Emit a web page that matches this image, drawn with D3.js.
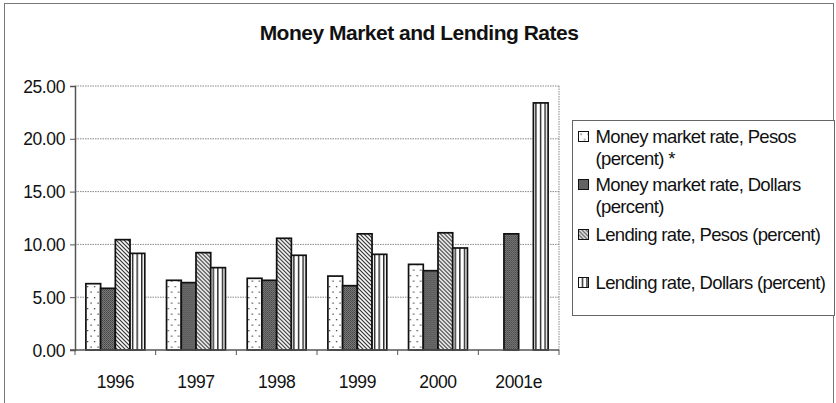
<!DOCTYPE html>
<html>
<head>
<meta charset="utf-8">
<script src="https://cdnjs.cloudflare.com/ajax/libs/d3/7.8.5/d3.min.js"></script>
<style>
  body { margin: 0; background: #fff; }
  text { font-family: "Liberation Sans", Arial, sans-serif; fill: #111; }
</style>
</head>
<body>
<div id="chart"></div>
<script>
// data
var years = ["1996", "1997", "1998", "1999", "2000", "2001e"];
var seriesNames = [
  ["Money market rate, Pesos", "(percent) *"],
  ["Money market rate, Dollars", "(percent)"],
  ["Lending rate, Pesos (percent)"],
  ["Lending rate, Dollars (percent)"]
];
var mmPesos   = [6.28, 6.60, 6.79, 7.00, 8.11, null];
var mmDollars = [5.84, 6.38, 6.60, 6.09, 7.51, 11.00];
var lendPesos = [10.45, 9.22, 10.58, 11.00, 11.10, null];
var lendDollars = [9.15, 7.80, 8.97, 9.06, 9.66, 23.40];
var yTicks = [0, 5, 10, 15, 20, 25];

var allSeries = [mmPesos, mmDollars, lendPesos, lendDollars];
var patterns = ["pDots", "pDark", "pDiag", "pVert"];

var W = 836, H = 403;
var margin = {top: 86, right: 277, bottom: 53, left: 75},
    width = W - margin.left - margin.right,
    height = H - margin.top - margin.bottom;

var svg = d3.select("#chart").append("svg")
  .attr("width", W).attr("height", H);

// fill patterns
var defs = svg.append("defs");
var p1 = defs.append("pattern").attr("id", "pDots").attr("patternUnits", "userSpaceOnUse")
  .attr("width", 7).attr("height", 11);
p1.append("rect").attr("width", 7).attr("height", 11).attr("fill", "#fff");
p1.append("rect").attr("x", 1).attr("y", 2).attr("width", 1.3).attr("height", 1.3).attr("fill", "#444");
p1.append("rect").attr("x", 4.5).attr("y", 7.5).attr("width", 1.3).attr("height", 1.3).attr("fill", "#444");

var p2 = defs.append("pattern").attr("id", "pDark").attr("patternUnits", "userSpaceOnUse")
  .attr("width", 2).attr("height", 2);
p2.append("rect").attr("width", 2).attr("height", 2).attr("fill", "#808080");
p2.append("rect").attr("width", 1).attr("height", 1).attr("fill", "#3c3c3c");
p2.append("rect").attr("x", 1).attr("y", 1).attr("width", 1).attr("height", 1).attr("fill", "#505050");

var p3 = defs.append("pattern").attr("id", "pDiag").attr("patternUnits", "userSpaceOnUse")
  .attr("width", 4).attr("height", 4);
p3.append("rect").attr("width", 4).attr("height", 4).attr("fill", "#fff");
p3.append("path").attr("d", "M-1,-1 L5,5 M-1,3 L1,5 M3,-1 L5,1")
  .attr("stroke", "#222").attr("stroke-width", 1.1);

var p4 = defs.append("pattern").attr("id", "pVert").attr("patternUnits", "userSpaceOnUse")
  .attr("width", 4.6).attr("height", 10);
p4.append("rect").attr("width", 4.6).attr("height", 10).attr("fill", "#fff");
p4.append("rect").attr("x", 0).attr("width", 1.4).attr("height", 10).attr("fill", "#222");

// outer chart border
svg.append("rect").attr("x", 4.5).attr("y", 3.5).attr("width", W - 7).attr("height", H + 10)
  .attr("fill", "none").attr("stroke", "#777").attr("stroke-width", 1);

// title
svg.append("text").attr("x", 419).attr("y", 40).attr("text-anchor", "middle")
  .style("font-size", "21px").style("font-weight", "bold").style("letter-spacing", "-0.5px")
  .text("Money Market and Lending Rates");

var chartGroup = svg.append("g").attr("transform", `translate(${margin.left}, ${margin.top})`);

var x0 = d3.scaleBand().domain(years).range([0, width]).paddingInner(0.27).paddingOuter(0.135);
var x1 = d3.scaleBand().domain(d3.range(4)).range([0, x0.bandwidth()]);
var y = d3.scaleLinear().domain([0, 25]).range([height, 0]);

// gridlines
chartGroup.selectAll(".grid").data(yTicks.slice(1)).enter().append("line")
  .attr("x1", 0).attr("x2", width)
  .attr("y1", d => y(d)).attr("y2", d => y(d))
  .attr("stroke", "#888").attr("stroke-width", 1).attr("stroke-dasharray", "1.5,1");
// right plot border
chartGroup.append("line").attr("x1", width).attr("x2", width).attr("y1", 0).attr("y2", height)
  .attr("stroke", "#888").attr("stroke-dasharray", "1.5,1");

// bars
var groups = chartGroup.selectAll(".yr").data(years).enter().append("g")
  .attr("transform", d => `translate(${x0(d)},0)`);
groups.selectAll("rect")
  .data((d, i) => allSeries.map((s, k) => ({k: k, v: s[i]})).filter(e => e.v != null))
  .enter().append("rect")
  .attr("x", d => x1(d.k))
  .attr("y", d => y(d.v))
  .attr("width", x1.bandwidth())
  .attr("height", d => height - y(d.v))
  .attr("fill", d => `url(#${patterns[d.k]})`)
  .attr("stroke", "#111").attr("stroke-width", 1.7);

// axes
var leftAxis = d3.axisLeft(y).tickValues(yTicks).tickFormat(d3.format(".2f")).tickSize(5);
var yAxis = chartGroup.append("g").call(leftAxis);
yAxis.select(".domain").attr("stroke", "#555").attr("stroke-width", 1.5);
yAxis.selectAll(".tick line").attr("stroke", "#555");
yAxis.selectAll("text").style("font-size", "17.5px").style("letter-spacing", "-0.4px")
  .attr("x", -10).attr("dy", "0.35em").attr("fill", "#111");

var xAxis = chartGroup.append("g").attr("transform", `translate(0, ${height})`);
xAxis.append("line").attr("x1", -5).attr("x2", width).attr("stroke", "#555").attr("stroke-width", 1.5);
xAxis.selectAll(".xt").data(d3.range(years.length + 1)).enter().append("line")
  .attr("x1", d => d * width / years.length).attr("x2", d => d * width / years.length)
  .attr("y1", 0).attr("y2", 5).attr("stroke", "#555");
xAxis.selectAll(".xl").data(years).enter().append("text")
  .attr("x", d => x0(d) + x0.bandwidth() / 2).attr("y", 38)
  .attr("text-anchor", "middle").style("font-size", "17.5px").style("letter-spacing", "-0.4px")
  .text(d => d);

// legend
var legend = svg.append("g").attr("transform", "translate(572.5, 120.5)");
legend.append("rect").attr("width", 262).attr("height", 195)
  .attr("fill", "#fff").attr("stroke", "#666").attr("stroke-width", 1);
var legendY = [22, 70, 120, 168];
var items = legend.selectAll(".li").data(seriesNames).enter().append("g")
  .attr("transform", (d, i) => `translate(0, ${legendY[i]})`);
items.append("rect").attr("x", 6).attr("y", -11).attr("width", 10).attr("height", 10)
  .attr("fill", (d, i) => `url(#${patterns[i]})`).attr("stroke", "#111").attr("stroke-width", 1);
items.each(function(d) {
  var t = d3.select(this).append("text").attr("x", 23).attr("y", 0)
    .style("font-size", "18.5px").style("letter-spacing", "-0.65px");
  d.forEach((line, j) => {
    t.append("tspan").attr("x", 23).attr("dy", j === 0 ? 0 : 22).text(line);
  });
});
</script>
</body>
</html>
